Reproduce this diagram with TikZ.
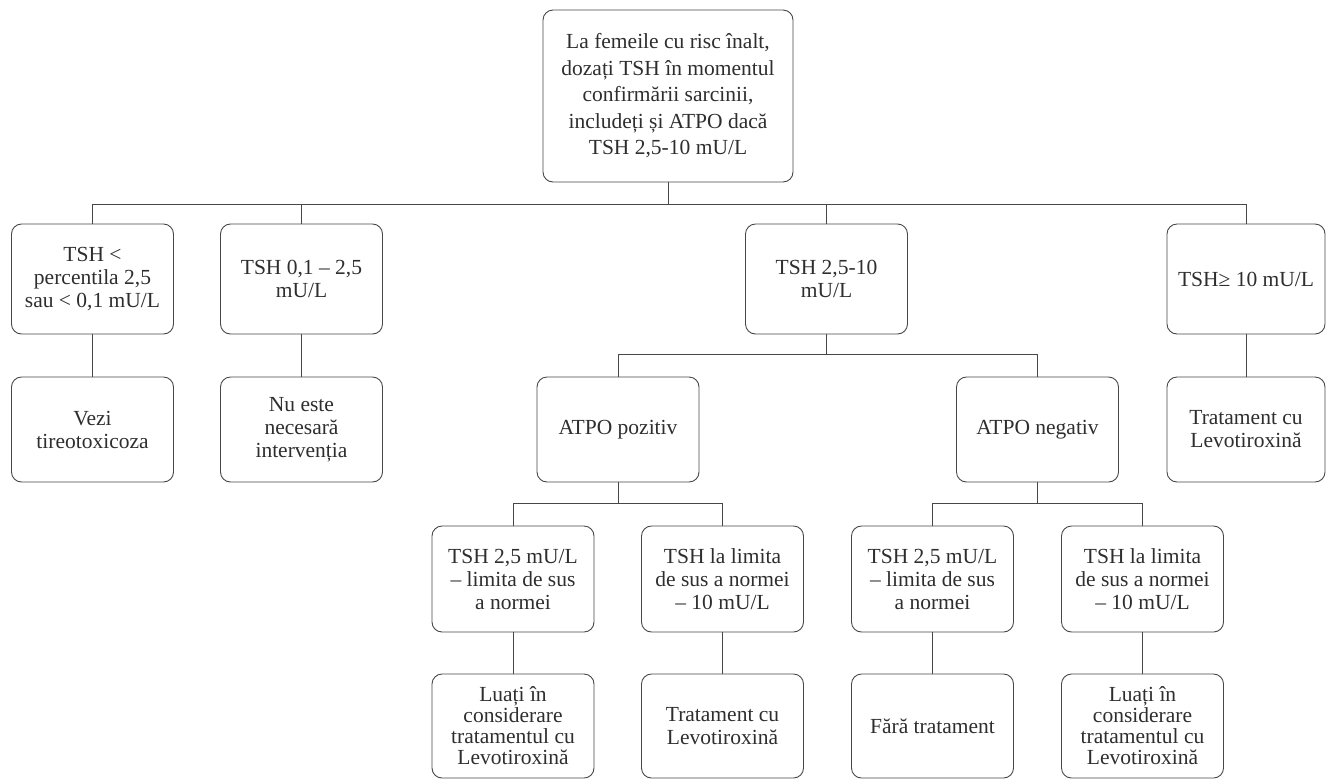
\documentclass[tikz,border=0pt]{standalone}
\usepackage{fontspec}
\setmainfont{Liberation Serif}
\begin{document}
\begin{tikzpicture}[x=1pt,y=-1pt,
  box/.style={draw=black!72, line width=0.9pt, rounded corners=10pt, align=center,
    inner sep=0pt, text=black!82, minimum width=162pt,
    font=\fontsize{21.5}{23}\selectfont},
  hA/.style={minimum height=110pt},
  hB/.style={minimum height=105pt},
  tight/.style={font=\fontsize{21.5}{21}\selectfont},
  conn/.style={draw=black!72, line width=0.9pt}]
\useasboundingbox (0,0) rectangle (1326,780);

% top
\node[box, minimum width=250pt, minimum height=172pt,
  font=\fontsize{21.5}{26.5}\selectfont] (top) at (668,96)
  {La femeile cu risc înalt,\\dozați TSH în momentul\\confirmării sarcinii,\\includeți și ATPO dacă\\TSH 2,5-10 mU/L};

% row 2
\node[box, hA] (b1) at (92.5,279) {TSH <\\percentila 2,5\\sau < 0,1 mU/L};
\node[box, hA] (b2) at (301.5,279) {TSH 0,1 – 2,5\\mU/L};
\node[box, hA] (b3) at (826.5,279) {TSH 2,5-10\\mU/L};
\node[box, hA, minimum width=158pt] (b4) at (1246,279) {TSH≥ 10 mU/L};

% row 3
\node[box, hB] (c1) at (92.5,429.5) {Vezi\\tireotoxicoza};
\node[box, hB] (c2) at (301.5,429.5) {Nu este\\necesară\\intervenția};
\node[box, hB] (pos) at (618,429.5) {ATPO pozitiv};
\node[box, hB] (neg) at (1037.5,429.5) {ATPO negativ};
\node[box, hB, minimum width=158pt] (c4) at (1246,429.5) {Tratament cu\\Levotiroxină};

% row 4
\node[box, minimum height=106pt] (d1) at (513,579) {TSH 2,5 mU/L\\– limita de sus\\a normei};
\node[box, minimum height=106pt] (d2) at (722.5,579) {TSH la limita\\de sus a normei\\– 10 mU/L};
\node[box, minimum height=106pt] (d3) at (932.5,579) {TSH 2,5 mU/L\\– limita de sus\\a normei};
\node[box, minimum height=106pt] (d4) at (1142.5,579) {TSH la limita\\de sus a normei\\– 10 mU/L};

% row 5
\node[box, tight, minimum height=104pt] (e1) at (513,726) {Luați în\\considerare\\tratamentul cu\\Levotiroxină};
\node[box, minimum height=104pt] (e2) at (722.5,726) {Tratament cu\\Levotiroxină};
\node[box, minimum height=104pt] (e3) at (932.5,726) {Fără tratament};
\node[box, tight, minimum height=104pt] (e4) at (1142.5,726) {Luați în\\considerare\\tratamentul cu\\Levotiroxină};

% buses
\coordinate (bus1) at (668,204);
\coordinate (bus2) at (826.5,354);
\coordinate (bus3) at (618,503.5);
\coordinate (bus4) at (1037.5,503.5);

% connectors
\draw[conn] (top.south) -- (bus1);
\draw[conn] (b1.north) -- (b1.north |- bus1) -- (b4.north |- bus1) -- (b4.north);
\draw[conn] (b2.north) -- (b2.north |- bus1);
\draw[conn] (b3.north) -- (b3.north |- bus1);

\draw[conn] (b1.south) -- (c1.north);
\draw[conn] (b2.south) -- (c2.north);
\draw[conn] (b4.south) -- (c4.north);

\draw[conn] (b3.south) -- (bus2);
\draw[conn] (pos.north) -- (pos.north |- bus2) -- (neg.north |- bus2) -- (neg.north);

\draw[conn] (pos.south) -- (bus3);
\draw[conn] (d1.north) -- (d1.north |- bus3) -- (d2.north |- bus3) -- (d2.north);
\draw[conn] (neg.south) -- (bus4);
\draw[conn] (d3.north) -- (d3.north |- bus4) -- (d4.north |- bus4) -- (d4.north);

\draw[conn] (d1.south) -- (e1.north);
\draw[conn] (d2.south) -- (e2.north);
\draw[conn] (d3.south) -- (e3.north);
\draw[conn] (d4.south) -- (e4.north);
\end{tikzpicture}
\end{document}
